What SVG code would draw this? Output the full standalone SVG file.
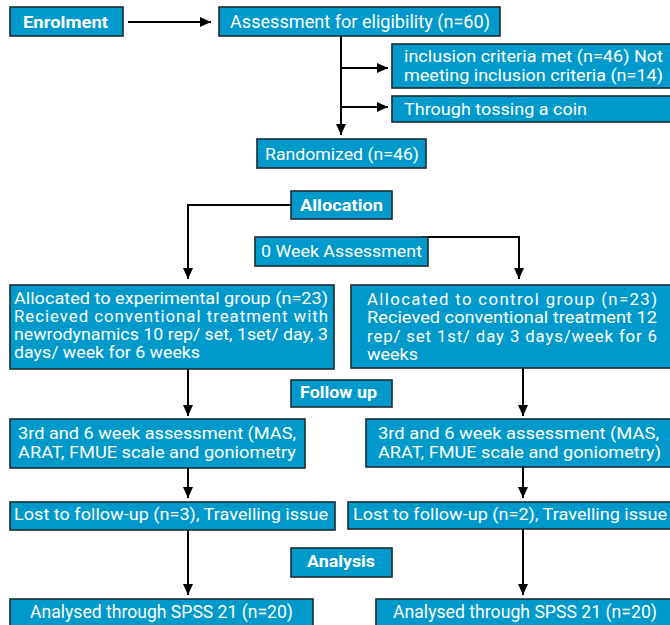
<svg xmlns="http://www.w3.org/2000/svg" width="670" height="625" viewBox="0 0 670 625">
<defs>
<style>
.box{fill:#0099cc;stroke:#1c2b32;stroke-width:1.6}
.t{font-family:Roboto,"Liberation Sans",sans-serif;font-size:16.8px;font-weight:400;fill:#ffffff}
.l{font-size:17.5px}
.m{font-size:16.4px}
.b{font-weight:bold}
.c{fill:none;stroke:#000;stroke-width:2;marker-end:url(#ah)}
</style>
<marker id="ah" markerUnits="userSpaceOnUse" markerWidth="12" markerHeight="11" refX="11" refY="5" orient="auto">
<path d="M0,0 L11,5 L0,10 z" fill="#000"/>
</marker>
</defs>
<rect width="670" height="625" fill="#ffffff"/>
<g id="connectors">
<path class="c" d="M128,22 H211"/>
<path class="c" d="M341,36 V135"/>
<path class="c" d="M341,68 H388"/>
<path class="c" d="M341,107 H388"/>
<path class="c" d="M291,205 H188 V279"/>
<path class="c" d="M422,237 H519 V279"/>
<path class="c" d="M188,369 V416"/>
<path class="c" d="M523,368 V416"/>
<path class="c" d="M188,468 V498"/>
<path class="c" d="M523,467 V498"/>
<path class="c" d="M188,530 V595"/>
<path class="c" d="M523,529 V595"/>
</g>
<g id="enrolment">
<rect class="box" x="10" y="7" width="113" height="29"/>
<text class="t b" x="23" y="28" textLength="85" lengthAdjust="spacingAndGlyphs">Enrolment</text>
</g>
<g id="assessment">
<rect class="box" x="219" y="7" width="281" height="29"/>
<text class="t l" x="230" y="28" textLength="260" lengthAdjust="spacingAndGlyphs">Assessment for eligibility (n=60)</text>
</g>
<g id="inclusion">
<rect class="box" x="392" y="44" width="280" height="44"/>
<text class="t" x="404" y="62" textLength="259" lengthAdjust="spacingAndGlyphs">inclusion criteria met (n=46) Not</text>
<text class="t" x="404" y="81" textLength="259" lengthAdjust="spacingAndGlyphs">meeting inclusion criteria (n=14)</text>
</g>
<g id="coin">
<rect class="box" x="392" y="96" width="280" height="26"/>
<text class="t" x="404" y="115" textLength="183" lengthAdjust="spacingAndGlyphs">Through tossing a coin</text>
</g>
<g id="randomized">
<rect class="box" x="257" y="139" width="169" height="29"/>
<text class="t" x="265" y="160" textLength="154" lengthAdjust="spacingAndGlyphs">Randomized (n=46)</text>
</g>
<g id="allocation">
<rect class="box" x="291" y="191" width="101" height="28"/>
<text class="t b" x="300" y="211" textLength="83" lengthAdjust="spacingAndGlyphs">Allocation</text>
</g>
<g id="week0">
<rect class="box" x="255" y="237" width="173" height="29"/>
<text class="t" x="261" y="257" textLength="161" lengthAdjust="spacingAndGlyphs">0 Week Assessment</text>
</g>
<g id="experimental">
<rect class="box" x="10" y="285" width="324" height="84"/>
<text class="t" x="14" y="303.5" textLength="314" lengthAdjust="spacingAndGlyphs">Allocated to experimental group (n=23)</text>
<text class="t" x="14" y="321.8" textLength="314" lengthAdjust="spacing">Recieved conventional treatment with</text>
<text class="t" x="14" y="340.1" textLength="314" lengthAdjust="spacingAndGlyphs">newrodynamics 10 rep/ set, 1set/ day, 3</text>
<text class="t" x="14" y="358.4" textLength="186" lengthAdjust="spacingAndGlyphs">days/ week for 6 weeks</text>
</g>
<g id="control">
<rect class="box" x="351" y="285" width="321" height="83"/>
<text class="t" x="367" y="305" textLength="290" lengthAdjust="spacing">Allocated to control group (n=23)</text>
<text class="t" x="367" y="323.3" textLength="290" lengthAdjust="spacingAndGlyphs">Recieved conventional treatment 12</text>
<text class="t" x="367" y="341.6" textLength="290" lengthAdjust="spacing">rep/ set 1st/ day 3 days/week for 6</text>
<text class="t" x="367" y="359.9" textLength="51" lengthAdjust="spacingAndGlyphs">weeks</text>
</g>
<g id="followup">
<rect class="box" x="291" y="380" width="101" height="27"/>
<text class="t b" x="300" y="398" textLength="77" lengthAdjust="spacingAndGlyphs">Follow up</text>
</g>
<g id="exp-assessment">
<rect class="box" x="10" y="419" width="295" height="49"/>
<text class="t m" x="18" y="439" textLength="278" lengthAdjust="spacingAndGlyphs">3rd and 6 week assessment (MAS,</text>
<text class="t m" x="18" y="457.5" textLength="278" lengthAdjust="spacingAndGlyphs">ARAT, FMUE scale and goniometry</text>
</g>
<g id="ctrl-assessment">
<rect class="box" x="366" y="419" width="306" height="48"/>
<text class="t m" x="378" y="439" textLength="281" lengthAdjust="spacingAndGlyphs">3rd and 6 week assessment (MAS,</text>
<text class="t m" x="378" y="457.5" textLength="283" lengthAdjust="spacingAndGlyphs">ARAT, FMUE scale and goniometry)</text>
</g>
<g id="exp-lost">
<rect class="box" x="10" y="502" width="325" height="28"/>
<text class="t" x="14" y="520" textLength="314" lengthAdjust="spacingAndGlyphs">Lost to follow-up (n=3), Travelling issue</text>
</g>
<g id="ctrl-lost">
<rect class="box" x="348" y="502" width="324" height="27"/>
<text class="t" x="353" y="520" textLength="314" lengthAdjust="spacingAndGlyphs">Lost to follow-up (n=2), Travelling issue</text>
</g>
<g id="analysis">
<rect class="box" x="291" y="548" width="101" height="29"/>
<text class="t b" x="307" y="567" textLength="68" lengthAdjust="spacingAndGlyphs">Analysis</text>
</g>
<g id="exp-analysed">
<rect class="box" x="10" y="599" width="303" height="32"/>
<text class="t l" x="30" y="618" textLength="263" lengthAdjust="spacingAndGlyphs">Analysed through SPSS 21 (n=20)</text>
</g>
<g id="ctrl-analysed">
<rect class="box" x="376" y="599" width="296" height="32"/>
<text class="t l" x="393" y="618" textLength="264" lengthAdjust="spacingAndGlyphs">Analysed through SPSS 21 (n=20)</text>
</g>
</svg>
